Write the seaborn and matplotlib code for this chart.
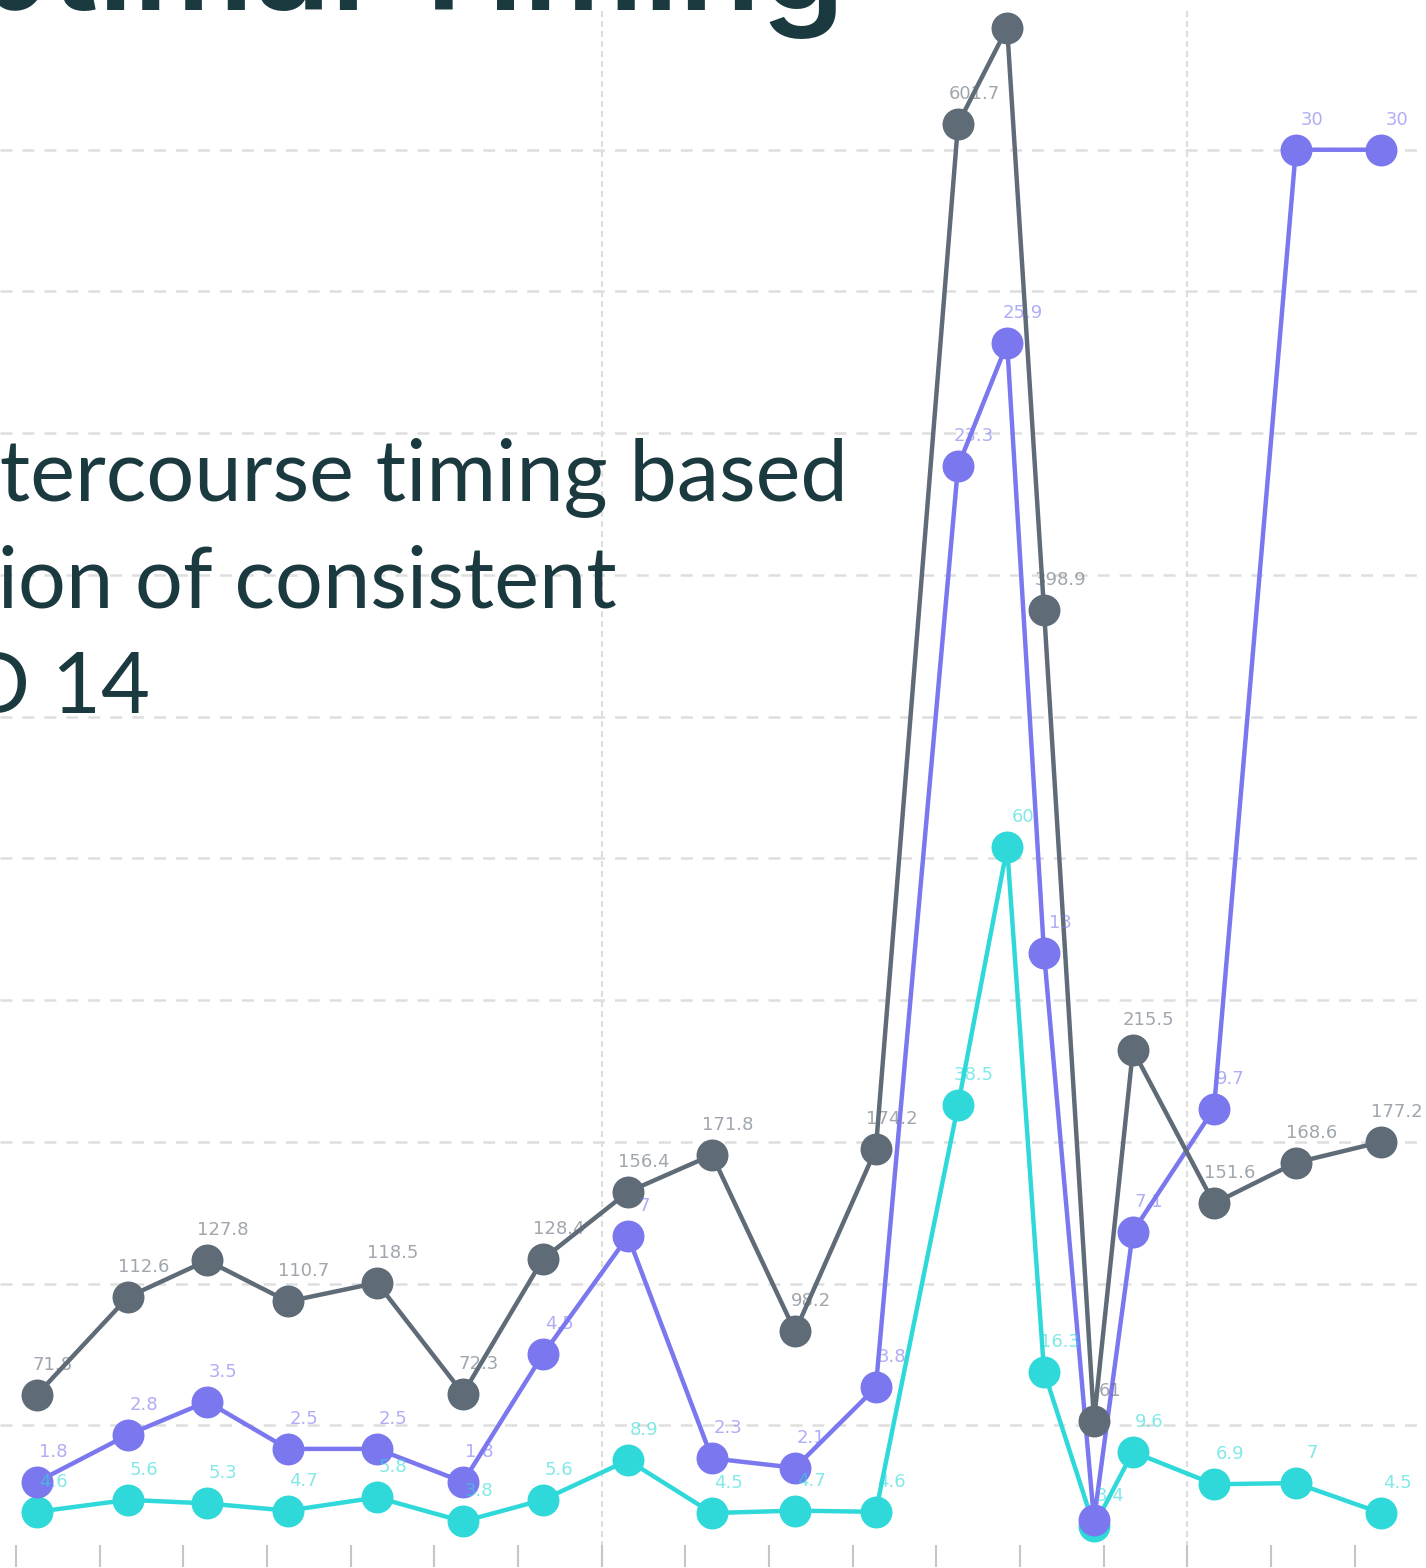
import matplotlib
matplotlib.use("Agg")
import matplotlib.pyplot as plt
import matplotlib.dates as mdates
import pandas as pd
import seaborn as sns

# ---------------- data ----------------
times = [
    "2024-03-04 06:00", "2024-03-05 08:10", "2024-03-06 06:50", "2024-03-07 06:00",
    "2024-03-08 07:35", "2024-03-09 08:15", "2024-03-10 07:10", "2024-03-11 07:35",
    "2024-03-12 07:40", "2024-03-13 07:30", "2024-03-14 06:40", "2024-03-15 06:15",
    "2024-03-15 20:20", "2024-03-16 06:55", "2024-03-16 21:15", "2024-03-17 08:25",
    "2024-03-18 07:40", "2024-03-19 07:10", "2024-03-20 07:35",
]
e3g = [71.8, 112.6, 127.8, 110.7, 118.5, 72.3, 128.4, 156.4, 171.8, 98.2,
       174.2, 601.7, 641.7, 398.9, 61, 215.5, 151.6, 168.6, 177.2]
pdg = [1.8, 2.8, 3.5, 2.5, 2.5, 1.8, 4.5, 7, 2.3, 2.1,
       3.8, 23.3, 25.9, 13, 1.0, 7.1, 9.7, 30, 30]
lh = [4.6, 5.6, 5.3, 4.7, 5.8, 3.8, 5.6, 8.9, 4.5, 4.7,
      4.6, 38.5, 60, 16.3, 3.4, 9.6, 6.9, 7, 4.5]
week_lines = ["2024-03-11", "2024-03-18"]
hidden_labels = [("PdG", "2024-03-16 21:15")]
title_text = "Hormone Trends & Optimal Timing"
subtitle_lines = [
    "Recommended intercourse timing based",
    "on the detection of consistent",
    "LH surge around CD 14",
]

# ---------------- style ----------------
sns.set_theme(style="white")
plt.rcParams["font.family"] = ["DejaVu Sans"]
plt.rcParams["lines.scale_dashes"] = False

GRAY = "#5f6b77"
PURPLE = "#7b77ef"
CYAN = "#30d9d9"
INK = "#1b3a40"
GRID = "#dedede"

W, H, DPI = 1426, 1568, 100
fig = plt.figure(figsize=(W / DPI, H / DPI), dpi=DPI)
fig.patch.set_facecolor("white")

df = pd.DataFrame({"time": pd.to_datetime(times), "E3G": e3g, "PdG": pdg, "LH": lh})

# geometry (pixels from top)
y_bottom_px, y_top_px = 1567, 8
ax = fig.add_axes([0, (H - y_bottom_px) / H, 1, (y_bottom_px - y_top_px) / H])
day_px = 83.66
day0_px = 16
day0 = mdates.date2num(pd.Timestamp("2024-03-04"))
xlim = (day0 - day0_px / day_px, day0 + (W - day0_px) / day_px)

# base axis: grid on the PdG scale
ax.set_ylim(0, 33)
ax.set_yticks(range(3, 31, 3))
ax.yaxis.grid(True, color=GRID, linewidth=1.8, linestyle=(0, (8.6, 7.2)))
ax.xaxis.grid(False)
ax.set_facecolor("white")
for s in ax.spines.values():
    s.set_visible(False)
ax.tick_params(axis="y", left=False, right=False, labelleft=False)
for d in week_lines:
    ax.axvline(mdates.date2num(pd.Timestamp(d)), color=GRID, lw=1.5, ls=(0, (4.3, 2.9)), zorder=0.5)

series = [("LH", CYAN, 130), ("PdG", PURPLE, 33), ("E3G", GRAY, 650)]
axes = {}
for name, col, top in series:
    a = ax.twinx()
    sns.lineplot(data=df, x="time", y=name, ax=a, color=col, marker="o",
                 markersize=23, markeredgewidth=0, linewidth=3.2)
    a.set_ylim(0, top)
    a.set_xlim(*xlim)
    for s in a.spines.values():
        s.set_visible(False)
    a.tick_params(axis="y", left=False, right=False, labelleft=False, labelright=False)
    a.set_ylabel("")
    a.set_xlabel("")
    a.grid(False)
    axes[name] = a

ax.set_xlim(*xlim)
ax.xaxis.set_major_locator(mdates.DayLocator())
ax.tick_params(axis="x", direction="in", length=16, width=1.5, color="#c6c6c6",
               bottom=True, labelbottom=False)
ax.set_xlabel("")
ax.set_ylabel("")

# value labels on top of everything, clipped to the plot area
top_ax = axes["E3G"]
hidden = {(n, pd.Timestamp(t)) for n, t in hidden_labels}
for name, col, top in series:
    a = axes[name]
    for t, v in zip(df["time"], df[name]):
        if (name, t) in hidden:
            continue
        ann = top_ax.annotate(f"{v:g}", xy=(mdates.date2num(t), v), xycoords=a.transData,
                              xytext=(16, 21), textcoords="offset pixels", ha="center",
                              va="bottom", fontsize=13, color=col, alpha=0.6,
                              annotation_clip=False, zorder=10)
        ann.set_clip_box(top_ax.bbox)
        ann.set_clip_on(True)

# ---------------- titles ----------------
renderer = fig.canvas.get_renderer()


def fit_size(text, target_px, **kw):
    t = fig.text(0, 0, text, fontsize=100, **kw)
    w = t.get_window_extent(renderer).width
    t.remove()
    return 100 * target_px / w


title_kw = dict(family=["Inter", "DejaVu Sans"], weight="semibold", color=INK)
ts = fit_size("Timing", 428, **title_kw) * 1.04
fig.text(845 / W, 1 - 10 / H, title_text, ha="right", va="baseline", fontsize=ts, **title_kw)

sub_kw = dict(family=["Lato", "DejaVu Sans"], color=INK)
ss = fit_size("tercourse timing based", 848, **sub_kw)
for line, rx, by in zip(subtitle_lines, [848, 617, 150], [500, 607, 712]):
    fig.text(rx / W, 1 - by / H, line, ha="right", va="baseline", fontsize=ss, **sub_kw)

fig.savefig("out.png", dpi=DPI, facecolor="white")
